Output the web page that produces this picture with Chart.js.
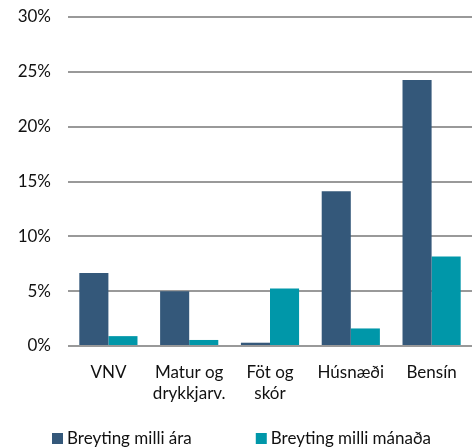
<!DOCTYPE html>
<html>
<head>
<meta charset="utf-8">
<script src="https://cdn.jsdelivr.net/npm/chart.js@4/dist/chart.umd.min.js"></script>
<style>
  html, body { margin: 0; padding: 0; background: #fff; }
  #wrap { width: 476px; height: 447px; }
</style>
</head>
<body>
<div id="wrap"><canvas id="chart" width="476" height="447"></canvas></div>
<script>
// Categories and series
const categories = ['VNV', ['Matur og', 'drykkjarv.'], ['Föt og', 'skór'], 'Húsnæði', 'Bensín'];
const yearChange = [6.65, 5.0, 0.3, 14.1, 24.25];
const monthChange = [0.9, 0.55, 5.25, 1.6, 8.15];
const seriesNames = ['Breyting milli ára', 'Breyting milli mánaða'];
const yTicks = [0, 5, 10, 15, 20, 25, 30];

const fontFamily = 'Lato, "Open Sans", sans-serif';
const ctx = document.getElementById('chart');

// Wide-spaced legend along the bottom, like the original spreadsheet chart
const bottomLegend = {
    id: 'bottomLegend',
    afterDraw(chart) {
        const c = chart.ctx;
        const y = 438.5;
        const box = 11;
        let x = 52;
        c.save();
        c.font = '17px ' + fontFamily;
        c.textBaseline = 'middle';
        c.textAlign = 'left';
        chart.data.datasets.forEach(ds => {
            c.fillStyle = ds.backgroundColor;
            c.fillRect(x, y - box / 2, box, box);
            c.fillStyle = '#111';
            c.fillText(ds.label, x + box + 4, y);
            x += box + 4 + c.measureText(ds.label).width + 64;
        });
        c.restore();
    }
};

new Chart(ctx, {
    type: 'bar',
    data: {
        labels: categories,
        datasets: [
            {
                label: seriesNames[0],
                data: yearChange,
                backgroundColor: '#34587a',
                categoryPercentage: 0.72,
                barPercentage: 1.0
            },
            {
                label: seriesNames[1],
                data: monthChange,
                backgroundColor: '#0097a9',
                categoryPercentage: 0.72,
                barPercentage: 1.0
            }
        ]
    },
    options: {
        responsive: false,
        animation: false,
        layout: { padding: { left: 0, right: 4, top: 17, bottom: 21 } },
        scales: {
            x: {
                grid: { display: false },
                border: { display: false },
                ticks: {
                    color: '#111',
                    font: { family: fontFamily, size: 17, lineHeight: 1.25 },
                    maxRotation: 0,
                    autoSkip: false,
                    padding: 8
                },
                afterFit: axis => { axis.height = 80; }
            },
            y: {
                min: 0,
                max: 30,
                afterBuildTicks: axis => {
                    axis.ticks = yTicks.map(v => ({ value: v }));
                },
                afterFit: axis => {
                    axis.width = 68;
                    axis.paddingTop = 0;
                    axis.paddingBottom = 0;
                },
                grid: { color: '#999', lineWidth: 2, drawTicks: false },
                border: { display: false },
                ticks: {
                    color: '#111',
                    font: { family: fontFamily, size: 17 },
                    padding: 17,
                    callback: v => v + '%'
                }
            }
        },
        plugins: {
            legend: { display: false },
            tooltip: { enabled: false }
        }
    },
    plugins: [bottomLegend]
});
</script>
</body>
</html>
